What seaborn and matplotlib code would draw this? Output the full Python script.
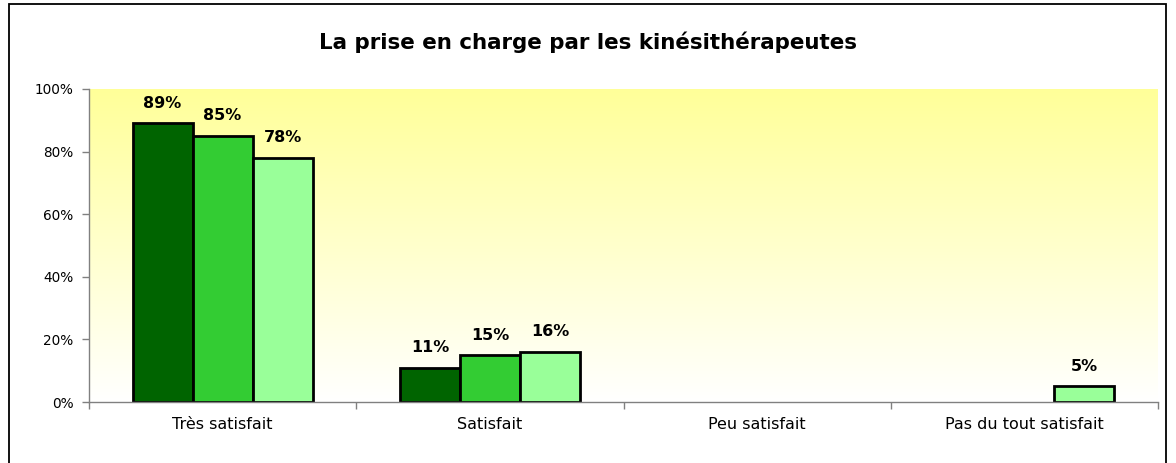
import numpy as np
import pandas as pd
import seaborn as sns
import matplotlib.pyplot as plt
from matplotlib.colors import LinearSegmentedColormap
from matplotlib.patches import Rectangle
from matplotlib.ticker import FuncFormatter

categories = ['Très satisfait', 'Satisfait', 'Peu satisfait', 'Pas du tout satisfait']
series = ['Série 1', 'Série 2', 'Série 3']
values_s1 = [89, 11, np.nan, np.nan]
values_s2 = [85, 15, np.nan, np.nan]
values_s3 = [78, 16, np.nan, 5]
colors = ['#006400', '#33CC33', '#99FF99']

df = pd.DataFrame({
    'categorie': categories * 3,
    'serie': [s for s in series for _ in categories],
    'valeur': values_s1 + values_s2 + values_s3,
})

sns.set_style('white')
plt.rcParams['font.family'] = ['DejaVu Sans']
plt.rcParams['text.color'] = 'black'
plt.rcParams['xtick.color'] = 'black'
plt.rcParams['ytick.color'] = 'black'

fig = plt.figure(figsize=(11.76, 4.63), dpi=100)
ax = fig.add_axes([89 / 1176, 1 - 402 / 463, (1158 - 89) / 1176, (402 - 89) / 463])

# yellow-to-white gradient background of the plot area
cmap = LinearSegmentedColormap.from_list('fond', ['#FFFFFF', '#FFFF99'])
grad = np.linspace(0, 1, 256).reshape(-1, 1)
ax.imshow(grad, cmap=cmap, aspect='auto', origin='lower',
          extent=(-0.5, 3.5, 0, 100), zorder=0)

sns.barplot(data=df, x='categorie', y='valeur', hue='serie', order=categories,
            hue_order=series, palette=colors, saturation=1, width=0.674,
            edgecolor='black', linewidth=2, ax=ax, legend=False, zorder=2)

for cont in ax.containers:
    labels = ['' if np.isnan(v) else f'{v:.0f}%' for v in cont.datavalues]
    ax.bar_label(cont, labels=labels, padding=9, fontsize=11.5, fontweight='bold',
                 color='black')

ax.set_xlim(-0.5, 3.5)
ax.set_ylim(0, 100)
ax.set_yticks([0, 20, 40, 60, 80, 100])
ax.yaxis.set_major_formatter(FuncFormatter(lambda v, p: f'{v:.0f}%'))
ax.set_xticks([0, 1, 2, 3])
ax.set_xticks([-0.5, 0.5, 1.5, 2.5, 3.5], minor=True)
ax.tick_params(axis='x', which='major', bottom=True, length=0, pad=11, labelsize=11.5,
               labelcolor='black')
ax.tick_params(axis='x', which='minor', bottom=True, length=5, width=1,
               color='#808080', direction='out')
ax.tick_params(axis='y', left=True, length=5, width=1, color='#808080', direction='out',
               labelsize=9.8, pad=6, labelcolor='black')
ax.set_xlabel('')
ax.set_ylabel('')
for side in ['top', 'right']:
    ax.spines[side].set_visible(False)
for side in ['left', 'bottom']:
    ax.spines[side].set_color('#808080')
    ax.spines[side].set_linewidth(1)

fig.text(0.5, 1 - 42 / 463, 'La prise en charge par les kinésithérapeutes',
         ha='center', va='center', fontsize=15.4, fontweight='bold', color='black')

# outer chart frame
fig.patches.append(Rectangle((9 / 1176, -0.05), (1166 - 9) / 1176, 1 - 4 / 463 + 0.05,
                             transform=fig.transFigure, fill=False,
                             edgecolor='black', linewidth=1.3))

fig.savefig('out.png', dpi=100)
